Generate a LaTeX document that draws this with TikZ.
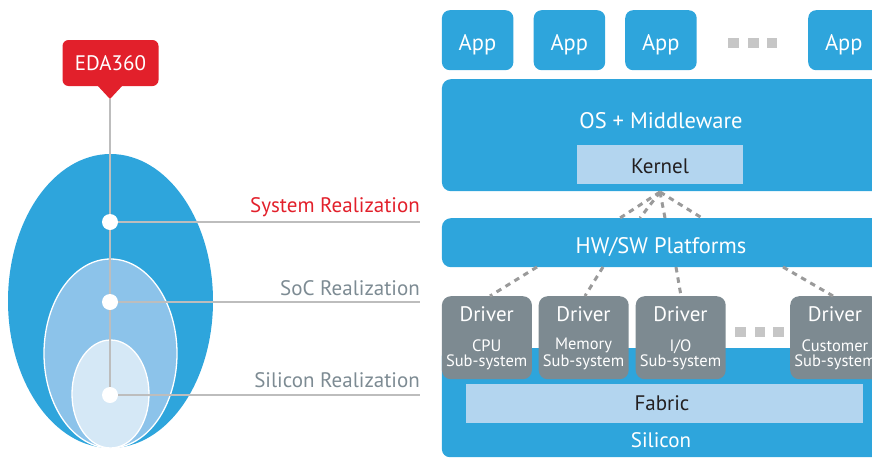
\documentclass[tikz,border=0pt]{standalone}
\usepackage{fontspec}
\setmainfont{PT Sans}
\usetikzlibrary{shapes.geometric,calc}
\definecolor{edablue}{HTML}{2EA5DC}
\definecolor{midblue}{HTML}{8CC3EA}
\definecolor{paleblue}{HTML}{D5E8F6}
\definecolor{boxblue}{HTML}{B3D5EF}
\definecolor{edared}{HTML}{E2202B}
\definecolor{drvgray}{HTML}{7D8A91}
\definecolor{txtgray}{HTML}{7D8B93}
\definecolor{linegray}{HTML}{BDBDBD}
\definecolor{dashgray}{HTML}{9A9A9A}
\definecolor{dotgray}{HTML}{C6C6C6}
\definecolor{darktext}{HTML}{231F20}
\tikzset{
  lbl/.style={font=\fontsize{22.5}{26}\selectfont, inner sep=0pt, anchor=base},
  midlbl/.style={font=\fontsize{21}{24}\selectfont, inner sep=0pt, anchor=base},
  sublbl/.style={font=\fontsize{16.5}{15}\selectfont, inner sep=0pt, anchor=base,
    text=white, align=center},
  bluebox/.style={fill=edablue, rounded corners=9pt, inner sep=0pt, anchor=north west},
  lightbox/.style={fill=boxblue, inner sep=0pt, anchor=north west},
  drvbox/.style={fill=drvgray, rounded corners=9pt, inner sep=0pt, anchor=north west,
    minimum width=90pt, minimum height=83pt},
  sq/.style={fill=dotgray, inner sep=0pt, minimum size=10.5pt},
  oval/.style={ellipse, inner sep=0pt},
  dot/.style={circle, fill=white, inner sep=0pt, minimum size=16pt},
  guide/.style={draw=linegray, line width=1.3pt},
  link/.style={draw=dashgray, line width=3pt, dash pattern=on 5.5pt off 5pt},
}
\begin{document}
\begin{tikzpicture}[x=1pt,y=-1pt]
\useasboundingbox (0,0) rectangle (872,458);
\clip (0,0) rectangle (872,458);

% ---------- nested realization ovals ----------
\node[oval, fill=edablue, minimum width=205pt, minimum height=294pt] (sys) at (110.5,301) {};
\node[oval, fill=midblue, draw=white, line width=1.3pt, minimum width=133pt, minimum height=189pt] (soc) at (110.5,353.5) {};
\node[oval, fill=paleblue, draw=white, line width=1.3pt, minimum width=77pt, minimum height=108pt] (sil) at (110.5,394) {};

% ---------- EDA360 callout ----------
\node[fill=edared, rounded corners=6pt, inner sep=0pt, minimum width=96pt, minimum height=46pt] (eda) at (110.5,63) {};
\coordinate (tip) at (110,99);
\fill[edared] (97,85) -- (123,85) -- (tip) -- cycle;
\node[midlbl, text=white] (edat) at (110.5,70) {EDA360};

% ---------- guide lines and dots ----------
\coordinate (sysend) at (420,222);
\coordinate (socend) at (420,302);
\coordinate (silend) at (420,395);
\coordinate (d1) at (110,222);
\coordinate (d2) at (110,302);
\coordinate (d3) at (110,395);
\draw[guide] (tip) -- (d3);
\draw[guide] (d1) -- (sysend);
\draw[guide] (d2) -- (socend);
\draw[guide] (d3) -- (silend);
\node[dot] (dot1) at (d1) {};
\node[dot] (dot2) at (d2) {};
\node[dot] (dot3) at (d3) {};

\node[midlbl, anchor=base east, text=edared] (syslbl) at (420,212) {System Realization};
\node[midlbl, anchor=base east, text=txtgray] (soclbl) at (420,295) {SoC Realization};
\node[midlbl, anchor=base east, text=txtgray] (sillbl) at (420,387) {Silicon Realization};

% ---------- applications ----------
\foreach \n/\x in {1/441.7, 2/533.5, 3/625, 4/808}{
  \node[bluebox, rounded corners=8pt, minimum width=71.5pt, minimum height=60pt] (app\n) at (\x,10) {};
  \node[lbl, text=white] (appt\n) at ($(\x,50)+(35.75,0)$) {App};
}
\node[sq] (as1) at (733.5,43) {};
\node[sq] (as2) at (753.5,43) {};
\node[sq] (as3) at (772,43) {};

% ---------- OS + middleware ----------
\node[bluebox, minimum width=442pt, minimum height=112pt] (os) at (441.7,79) {};
\node[lbl, text=white] (ost) at (661,128) {OS + Middleware};
\node[lightbox, minimum width=166pt, minimum height=39pt] (kernel) at (577,145) {};
\node[midlbl, text=darktext] (kernelt) at (660,173) {Kernel};

% ---------- HW/SW platforms ----------
\node[bluebox, minimum width=442pt, minimum height=49pt] (hw) at (441.7,218) {};
\node[lbl, text=white] (hwt) at (661,253) {HW/SW Platforms};

% ---------- silicon and fabric ----------
\node[bluebox, rounded corners=8pt, minimum width=442pt, minimum height=109pt] (si) at (441.7,348) {};
\node[lightbox, minimum width=397pt, minimum height=39pt] (fabric) at (466,384) {};
\node[midlbl, text=darktext] (fabrict) at (662,410) {Fabric};
\node[midlbl, text=white] (sit) at (661,447) {Silicon};

% ---------- drivers ----------
\foreach \n/\x/\a in {1/441.7/CPU, 2/538.5/Memory, 3/635.5/I\slash O, 4/790/Customer}{
  \node[drvbox] (drv\n) at (\x,296) {};
  \node[midlbl, text=white] (drvt\n) at ($(\x,321)+(45,0)$) {Driver};
  \node[sublbl] (drva\n) at ($(\x,366)+(45,0)$) {\a\\Sub-system};
}
\node[sq] (ds1) at (740.5,332) {};
\node[sq] (ds2) at (760,332) {};
\node[sq] (ds3) at (778.5,332) {};

% ---------- dashed links ----------
\coordinate (kb) at (660,192);
\coordinate (h1) at (620,218);
\coordinate (h2) at (640,218);
\coordinate (h3) at (665,218);
\coordinate (h4) at (702,218);
\foreach \i in {1,...,4}{ \draw[link] (kb) -- (h\i); }

\coordinate (b1) at (537,267);  \coordinate (t1) at (490,296);
\coordinate (b2) at (603,267);  \coordinate (t2) at (585,296);
\coordinate (b3) at (676,267);  \coordinate (t3) at (681,296);
\coordinate (b4) at (783,267);  \coordinate (t4) at (833,296);
\foreach \i in {1,...,4}{ \draw[link] (b\i) -- (t\i); }
\end{tikzpicture}
\end{document}
